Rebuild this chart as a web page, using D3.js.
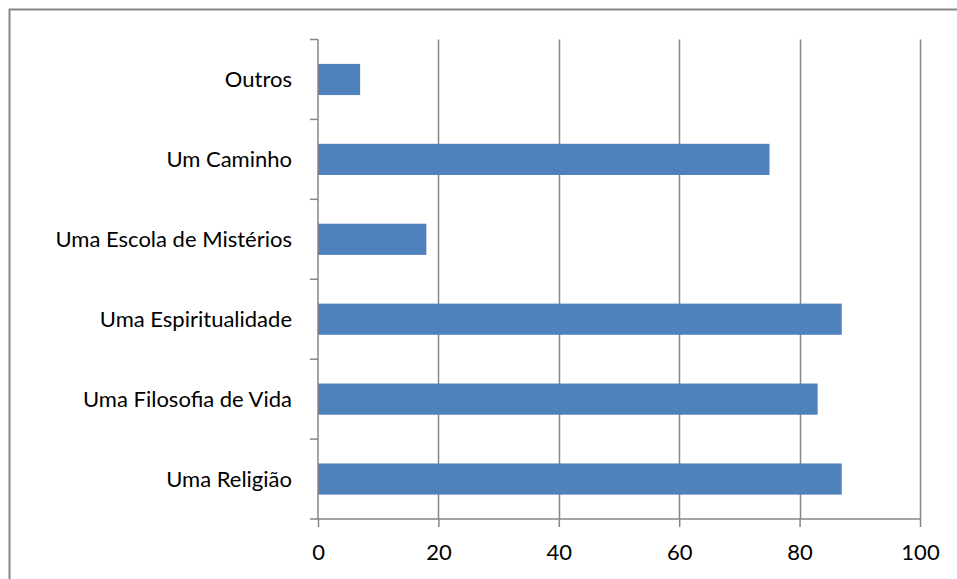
<!DOCTYPE html>
<html>
<head>
<meta charset="utf-8">
<script src="https://cdn.jsdelivr.net/npm/d3@7"></script>
<style>
    body { margin: 0; background: #fff; }
    svg { display: block; }
    text { font-family: Lato, "Open Sans", sans-serif; fill: #000; }
</style>
</head>
<body>
<div id="chart"></div>
<script>
// DATA
var categories = ["Outros", "Um Caminho", "Uma Escola de Mistérios",
                  "Uma Espiritualidade", "Uma Filosofia de Vida", "Uma Religião"];
var values = [7, 75, 18, 87, 83, 87];
var xTicks = [0, 20, 40, 60, 80, 100];

var svgWidth = 957, svgHeight = 579;
var margins = { top: 39.5, left: 318, right: 37, bottom: 60 };
var width = svgWidth - margins.left - margins.right;
var height = svgHeight - margins.top - margins.bottom;

var svg = d3.select("#chart")
    .append("svg")
        .attr("width", svgWidth)
        .attr("height", svgHeight);

// Outer chart border (runs off the right and bottom of the picture)
svg.append("rect")
    .attr("x", 9.5)
    .attr("y", 9.5)
    .attr("width", 1000)
    .attr("height", 1000)
    .attr("fill", "none")
    .attr("stroke", "#868686")
    .attr("stroke-width", 2);

var g = svg.append("g")
    .attr("transform", "translate(" + margins.left + "," + margins.top + ")");

var x = d3.scaleLinear()
    .domain([0, 100])
    .range([0, width]);

var y = d3.scaleBand()
    .domain(categories)
    .range([0, height])
    .paddingInner(0.61)
    .paddingOuter(0.305);

// Gridlines
g.selectAll(".grid")
    .data(xTicks.slice(1))
    .enter()
    .append("line")
        .attr("x1", d => Math.round(x(d)) + 0.5)
        .attr("x2", d => Math.round(x(d)) + 0.5)
        .attr("y1", 0)
        .attr("y2", height)
        .attr("stroke", "#868686")
        .attr("stroke-width", 1.5);

// Bars
g.selectAll(".bar")
    .data(values)
    .enter()
    .append("rect")
        .attr("x", 0)
        .attr("y", (d, i) => y(categories[i]))
        .attr("width", d => x(d))
        .attr("height", y.bandwidth())
        .attr("fill", "#4f81bd");

// X axis
var xAxis = g.append("g")
    .attr("transform", "translate(0," + height + ")")
    .call(d3.axisBottom(x).tickValues(xTicks).tickSize(8).tickPadding(17));
xAxis.select(".domain").attr("stroke", "#868686").attr("stroke-width", 1.5)
    .attr("d", "M0,0H" + width);
xAxis.selectAll(".tick line").attr("stroke", "#868686").attr("stroke-width", 1.5);
xAxis.selectAll("text")
    .style("font-family", "Lato, 'Open Sans', sans-serif")
    .style("font-size", "22px")
    .attr("fill", "#000");

// Y axis with ticks between categories
var boundaries = d3.range(categories.length + 1).map(i => i * height / categories.length);
g.append("line")
    .attr("x1", 0).attr("x2", 0)
    .attr("y1", 0).attr("y2", height)
    .attr("stroke", "#868686")
    .attr("stroke-width", 1.5);
g.selectAll(".ytick")
    .data(boundaries)
    .enter()
    .append("line")
        .attr("x1", -8).attr("x2", 0)
        .attr("y1", d => d).attr("y2", d => d)
        .attr("stroke", "#868686")
        .attr("stroke-width", 1.5);

// Category labels
g.selectAll(".ylabel")
    .data(categories)
    .enter()
    .append("text")
        .attr("x", -26)
        .attr("y", d => y(d) + y.bandwidth() / 2)
        .attr("dy", "0.36em")
        .attr("text-anchor", "end")
        .style("font-size", "22px")
        .text(d => d);
</script>
</body>
</html>
